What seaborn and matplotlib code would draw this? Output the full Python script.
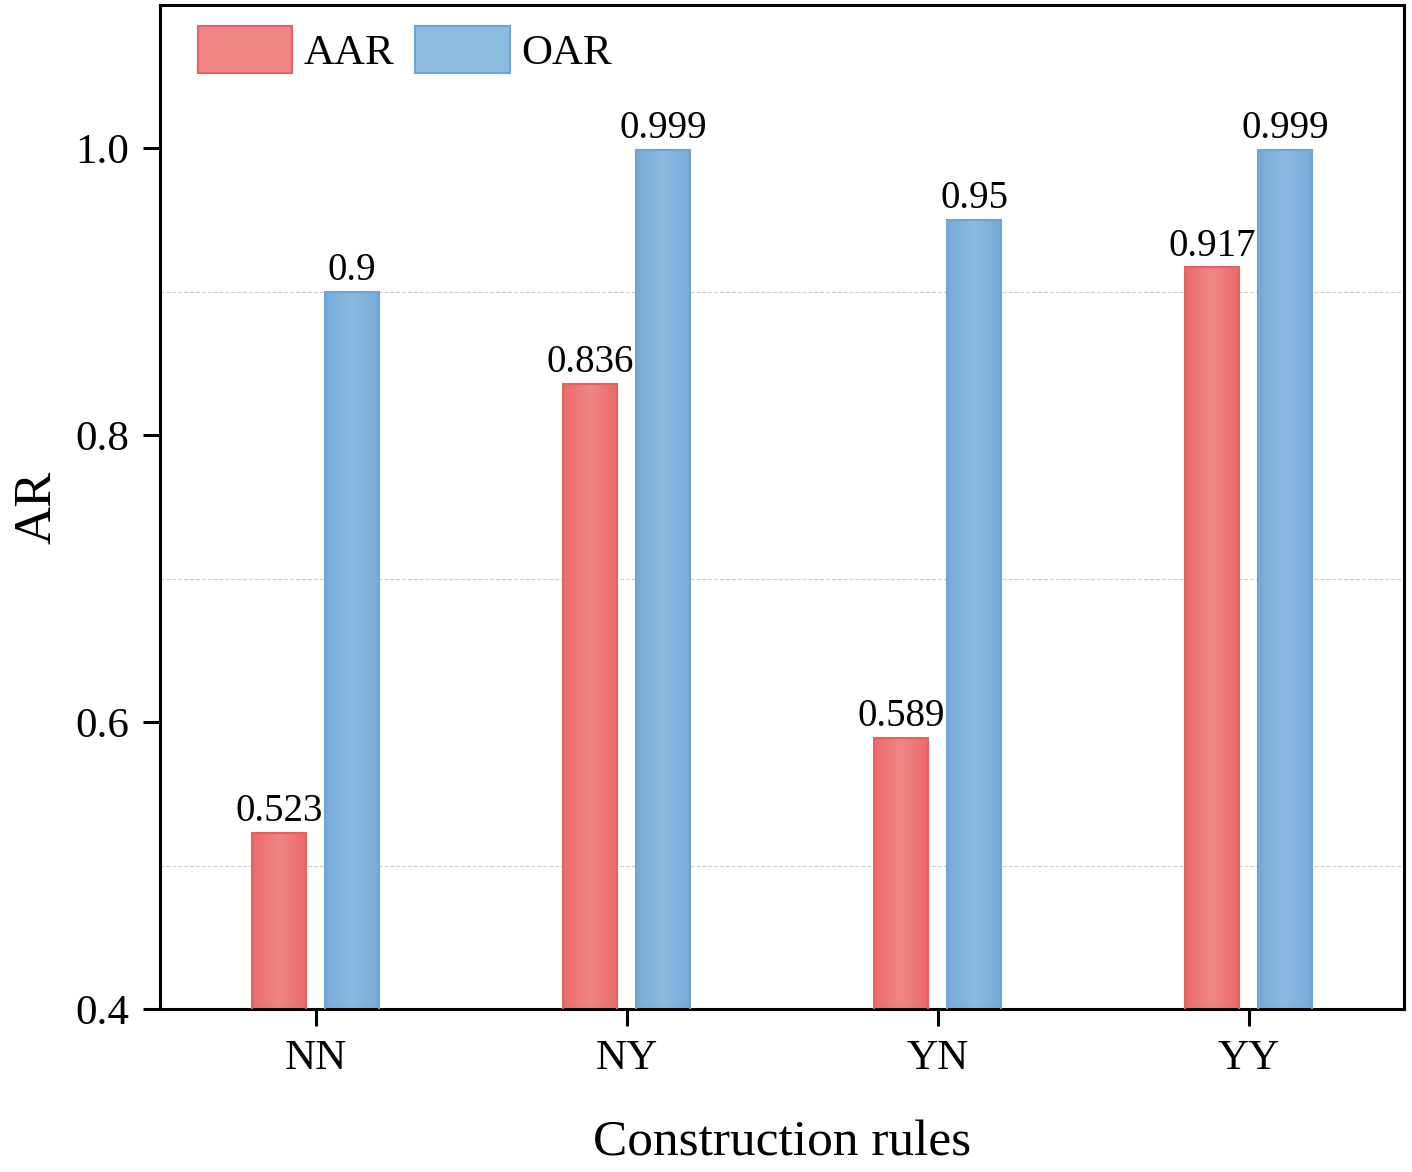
import numpy as np
import pandas as pd
import matplotlib
matplotlib.use('Agg')
import matplotlib.pyplot as plt
import seaborn as sns
from matplotlib.colors import LinearSegmentedColormap
from matplotlib.patches import Patch
from matplotlib.ticker import FixedLocator

# data
rules = ['NN', 'NY', 'YN', 'YY']
aar = [0.523, 0.836, 0.589, 0.917]
oar = [0.900, 0.999, 0.950, 0.999]
aar_labels = ['0.523', '0.836', '0.589', '0.917']
oar_labels = ['0.9', '0.999', '0.95', '0.999']
metrics = ['AAR', 'OAR']

# colours: edge, centre of the gradient, outline
grad = {
    'AAR': ('#EC6B6B', '#F08585', '#E8615F'),
    'OAR': ('#76AAD8', '#8CBBE0', '#6FA5D5'),
}

df = pd.DataFrame({
    'rule': rules * 2,
    'metric': ['AAR'] * 4 + ['OAR'] * 4,
    'value': aar + oar,
})

sns.set_theme(style='ticks')
plt.rcParams['font.family'] = ['Liberation Serif', 'DejaVu Serif']
plt.rcParams['text.color'] = 'black'
plt.rcParams['axes.labelcolor'] = 'black'
plt.rcParams['xtick.color'] = 'black'
plt.rcParams['ytick.color'] = 'black'

fig = plt.figure(figsize=(14.12, 11.72), dpi=100)
ax = fig.add_axes([160 / 1412, 1 - 1009 / 1172, 1244 / 1412, 1004 / 1172])

pal = {m: grad[m][1] for m in metrics}
sns.barplot(data=df, x='rule', y='value', hue='metric', order=rules,
            hue_order=metrics, palette=pal, width=0.47, gap=0.27,
            saturation=1, legend=False, ax=ax)

# gradient fill for each bar
for cont, m in zip(ax.containers, metrics):
    edge, mid, line = grad[m]
    cmap = LinearSegmentedColormap.from_list(m, [edge, mid, edge])
    for bar in cont:
        x, y0 = bar.get_x(), 0.4
        w, top = bar.get_width(), bar.get_height()
        bar.set_facecolor('none')
        bar.set_edgecolor(line)
        bar.set_linewidth(1.5)
        bar.set_zorder(3)
        img = ax.imshow(np.linspace(0, 1, 64).reshape(1, -1), cmap=cmap,
                        extent=[x, x + w, y0, top], aspect='auto', zorder=2.5)
        img.set_clip_path(bar)

for cont, labs in zip(ax.containers, [aar_labels, oar_labels]):
    ax.bar_label(cont, labels=labs, padding=2, fontsize=28)

ax.set_xlim(-0.5, 3.5)
ax.set_ylim(0.4, 1.1)
ax.set_yticks([0.4, 0.6, 0.8, 1.0])
ax.yaxis.set_minor_locator(FixedLocator([0.5, 0.7, 0.9]))
ax.grid(which='minor', axis='y', ls='--', lw=0.8, color='#cfcfcf')
ax.set_axisbelow(True)

for s in ax.spines.values():
    s.set_linewidth(2.2)
    s.set_color('black')
ax.tick_params(which='major', length=12, width=2.2, labelsize=31, pad=10)
ax.tick_params(which='minor', length=0)

ax.set_xlabel('Construction rules', fontsize=37, labelpad=30)
ax.set_ylabel('AR', fontsize=38, labelpad=10)

handles = [Patch(facecolor=grad[m][1], edgecolor=grad[m][2], lw=1.5) for m in metrics]
ax.legend(handles, metrics, loc='upper left', ncol=2, frameon=False,
          fontsize=31, handlelength=2.2, handleheight=1.3, handletextpad=0.26,
          columnspacing=0.48, borderaxespad=0.3, bbox_to_anchor=(0.006, 1.009))

fig.savefig('out.png', dpi=100)
